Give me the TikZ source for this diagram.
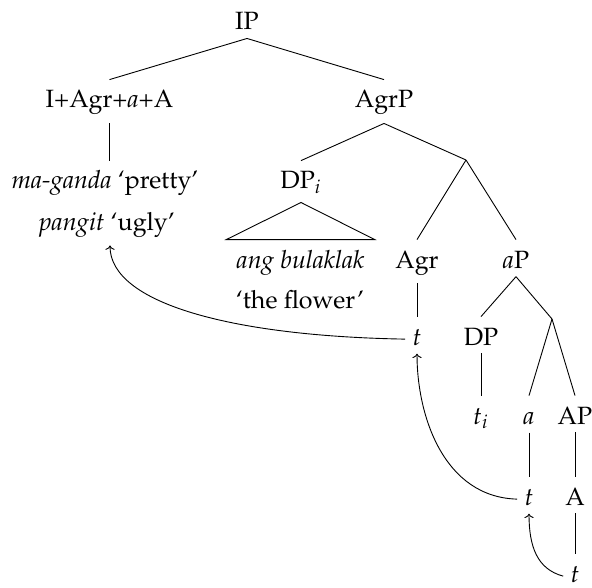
\documentclass[tikz,border=0pt]{standalone}
\usepackage[T1]{fontenc}
\usepackage{mathpazo}
\usetikzlibrary{arrows.meta}
\begin{document}
\begin{tikzpicture}[x=0.5pt,y=-0.5pt,
  tn/.style={anchor=base,inner ysep=4pt,inner xsep=3.5pt,text height=10pt,font=\fontsize{12.5}{15}\selectfont},
  br/.style={line width=0.45pt},
  mv/.style={-{To[length=2.2pt,width=4.6pt]},line width=0.45pt}]
\useasboundingbox (0,0) rectangle (592,587);
% nodes
\node[tn] (ip) at (247,30) {IP};
\node[tn] (iagr) at (109.5,108) {I+Agr+\textit{a}+A};
\node[tn] (agrp) at (384,108) {AgrP};
\node[tn] (mg1) at (105,189) {\textit{ma-ganda} `pretty'};
\node[tn] (mg2) at (107,230) {\textit{pangit} `ugly'};
\node[tn] (dpi) at (301,189) {DP$_i$};
\coordinate (x1) at (466,160);
\node[tn,inner xsep=5pt] (ab) at (300.5,268) {\textit{ang bulaklak}};
\node[tn] (tf) at (300,308) {`the flower'};
\node[tn] (agr) at (417,268) {Agr};
\node[tn] (ap) at (516,268) {\textit{a}P};
\node[tn] (t1) at (417,345) {$t$};
\node[tn] (dp) at (481,345) {DP};
\coordinate (x2) at (552,319);
\node[tn] (ti) at (481,424) {$t_i$};
\node[tn] (a) at (529,424) {\textit{a}};
\node[tn] (AP) at (575,424) {AP};
\node[tn] (t2) at (529,505) {$t$};
\node[tn] (A) at (575,505) {A};
\node[tn] (t3) at (575,582) {$t$};
% branches
\draw[br] (ip.south) -- (iagr.north);
\draw[br] (ip.south) -- (agrp.north);
\draw[br] (iagr.south) -- (iagr.south |- mg1.north);
\draw[br] (agrp.south) -- (dpi.north);
\draw[br] (agrp.south) -- (x1);
\draw[br] (dpi.south) -- (ab.north west) -- (ab.north east) -- cycle;
\draw[br] (x1) -- (agr.north);
\draw[br] (x1) -- (ap.north);
\draw[br] (agr.south) -- (t1.north);
\draw[br] (ap.south) -- (dp.north);
\draw[br] (ap.south) -- (x2);
\draw[br] (dp.south) -- (ti.north);
\draw[br] (x2) -- (a.north);
\draw[br] (x2) -- (AP.north);
\draw[br] (a.south) -- (t2.north);
\draw[br] (AP.south) -- (A.north);
\draw[br] (A.south) -- (t3.north);
% movement arrows
\draw[mv] ([yshift=-2pt]t3.west) .. controls +(-26,-7) and +(0,33) .. (t2.south);
\draw[mv] ([yshift=-2pt]t2.west) .. controls +(-73,-2) and +(0,63) .. (t1.south);
\draw[mv] ([yshift=-2pt]t1.west) .. controls +(-173,-3) and +(0,58) .. ([xshift=1.5pt]mg2.south);
\end{tikzpicture}
\end{document}
